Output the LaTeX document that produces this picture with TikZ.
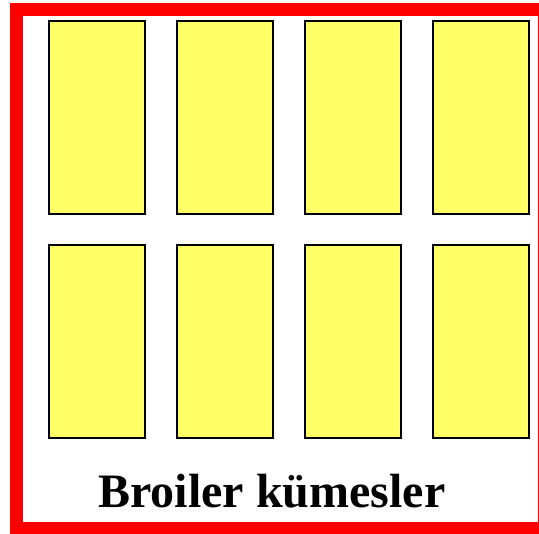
\documentclass[tikz,border=0pt]{standalone}
\usepackage{fontspec}
\setmainfont{Liberation Serif}
\usetikzlibrary{positioning}
\definecolor{hYellow}{HTML}{FFFF66}
\definecolor{hRed}{HTML}{FF0000}
\tikzset{
  hs/.style  = {draw=black, fill=hYellow, line width=1.5pt, inner sep=0pt,
                minimum width=96pt, minimum height=193pt},
  frm/.style = {draw=hRed, line width=13pt},
  ttl/.style = {font=\fontsize{48}{54}\selectfont\bfseries, inner sep=0pt},
}
\begin{document}
\begin{tikzpicture}[x=1pt, y=-1pt]
  \useasboundingbox (0,0) rectangle (539,534);
  \clip (0,0) rectangle (539,534);
  % outer fence
  \draw[frm] (16.5,9.5) rectangle (544,528.5);
  % houses, two rows of four
  \foreach \c in {1,...,4}
    \foreach \r/\yc in {1/117.5, 2/341.5}
      \node[hs] (h\r\c) at ({97+(\c-1)*128},\yc) {};
  \node[ttl, anchor=base] (title) at (272,508) {Broiler kümesler};
\end{tikzpicture}
\end{document}
